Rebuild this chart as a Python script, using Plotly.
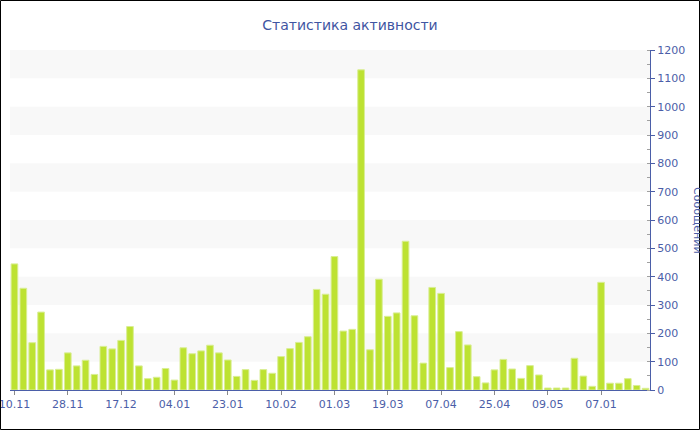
import plotly.graph_objects as go

values = [445, 359, 167, 275, 71, 73, 131, 85, 105, 55,
          154, 145, 175, 224, 85, 40, 45, 76, 35, 149,
          128, 138, 158, 131, 106, 48, 72, 34, 72, 59,
          118, 146, 168, 188, 355, 338, 471, 208, 214, 1130,
          142, 391, 260, 272, 525, 262, 95, 362, 341, 79,
          206, 159, 47, 25, 71, 108, 74, 41, 86, 53,
          7, 7, 7, 112, 49, 13, 380, 24, 24, 40,
          16, 6]
x_index = list(range(len(values)))
tick_positions = [0, 6, 12, 18, 24, 30, 36, 42, 48, 54, 60, 66]
tick_labels = ["10.11", "28.11", "17.12", "04.01", "23.01", "10.02",
               "01.03", "19.03", "07.04", "25.04", "09.05", "07.01"]
y_ticks = list(range(0, 1201, 100))

title_text = "Статистика активности"
y_title = "Сообщений"

FONT = "Verdana, DejaVu Sans, sans-serif"
BLUE = "#4b5ea8"

fig = go.Figure()
fig.add_trace(go.Bar(
    x=x_index, y=values,
    marker=dict(color="#bde232", line=dict(color="#d9ee94", width=1)),
    showlegend=False,
))

# alternate grid bands
shapes = []
for lo in range(100, 1200, 200):
    shapes.append(dict(type="rect", xref="paper", yref="y", x0=0, x1=1,
                       y0=lo, y1=lo + 100, fillcolor="#f8f8f8",
                       line=dict(width=0), layer="below"))
# outer border of the chart
W, H, ML, MR, MT, MB = 700, 430, 10, 50, 50, 40
pw, ph = W - ML - MR, H - MT - MB
shapes.append(dict(type="rect", xref="paper", yref="paper",
                   x0=(0.5 - ML) / pw, x1=(W - 0.5 - ML) / pw,
                   y0=-(MB - 0.5) / ph, y1=(H - MB - 0.5) / ph,
                   line=dict(color="black", width=1), fillcolor="rgba(0,0,0,0)"))

fig.update_layout(
    width=W, height=H,
    margin=dict(l=ML, r=MR, t=MT, b=MB, autoexpand=False),
    paper_bgcolor="white", plot_bgcolor="white",
    font=dict(family=FONT, size=11, color=BLUE),
    title=dict(text=title_text, x=0.5, xanchor="center", xref="container",
               y=1 - 25 / H, yanchor="middle",
               font=dict(family=FONT, size=14, color="#3f55a2")),
    bargap=0.25,
    shapes=shapes,
    annotations=[dict(text=y_title, xref="paper", yref="paper",
                      x=(698 - ML) / pw, y=0.5, xanchor="center", yanchor="middle",
                      textangle=90, showarrow=False,
                      font=dict(family=FONT, size=11, color=BLUE))],
)
fig.update_xaxes(
    range=[-0.5, len(values) - 0.5], automargin=False,
    tickmode="array", tickvals=tick_positions, ticktext=tick_labels,
    ticklabeloverflow="allow",
    showgrid=False, zeroline=False,
    showline=True, linecolor=BLUE, linewidth=1,
    ticks="outside", ticklen=4, tickcolor="#8a8a8a",
    tickfont=dict(family=FONT, size=11, color=BLUE),
)
fig.update_yaxes(
    range=[0, 1200], side="right", automargin=False,
    tickmode="array", tickvals=y_ticks,
    showgrid=False, zeroline=False,
    showline=True, linecolor=BLUE, linewidth=1,
    ticks="outside", ticklen=4, tickcolor=BLUE,
    minor=dict(dtick=50, ticks="inside", ticklen=3, tickcolor="#a0a0a0", showgrid=False),
    tickfont=dict(family=FONT, size=11, color=BLUE),
)

fig.write_html("out.html", config={"displayModeBar": False},
               post_script="document.body.style.margin='0';")
